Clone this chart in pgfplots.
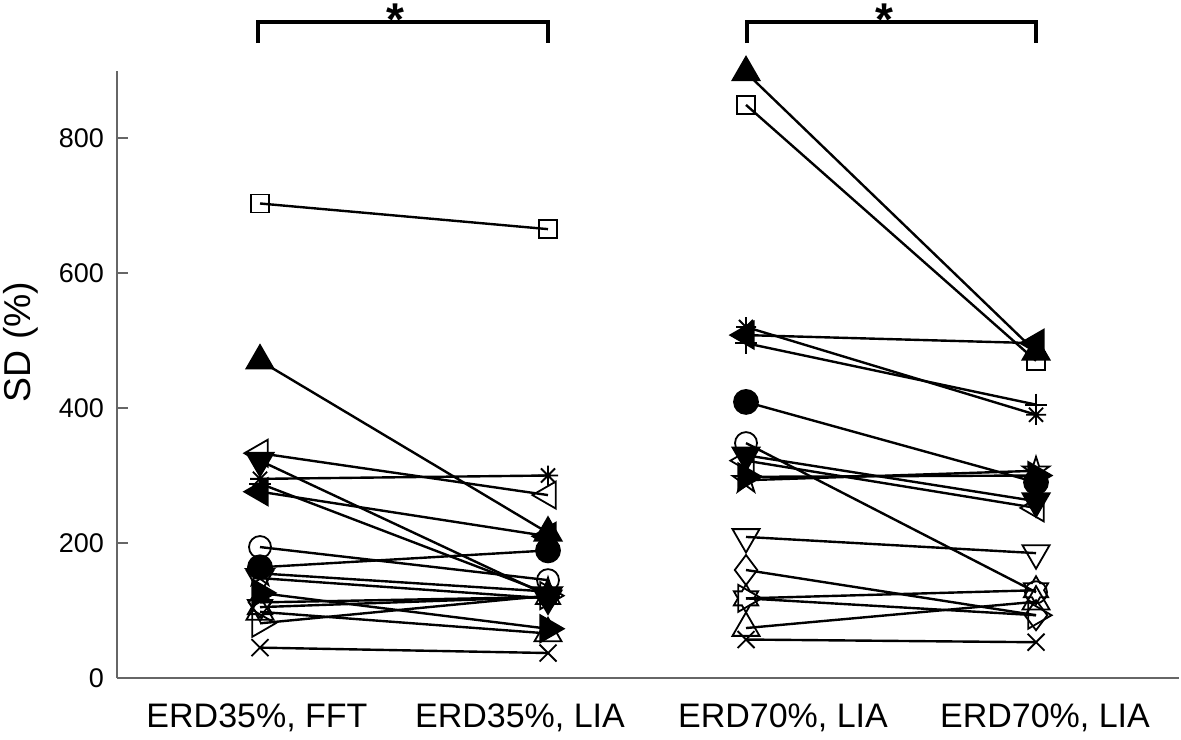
\documentclass[border=0pt]{standalone}
\usepackage{fontspec}
\setmainfont{Liberation Sans}
\usepackage{pgfplots}
\pgfplotsset{compat=1.18}
\pgfdeclareplotmark{ast8}{%
 \pgfpathmoveto{\pgfqpoint{-\pgfplotmarksize}{0pt}}\pgfpathlineto{\pgfqpoint{\pgfplotmarksize}{0pt}}%
 \pgfpathmoveto{\pgfqpoint{0pt}{-\pgfplotmarksize}}\pgfpathlineto{\pgfqpoint{0pt}{\pgfplotmarksize}}%
 \pgfpathmoveto{\pgfqpoint{-.7071\pgfplotmarksize}{-.7071\pgfplotmarksize}}\pgfpathlineto{\pgfqpoint{.7071\pgfplotmarksize}{.7071\pgfplotmarksize}}%
 \pgfpathmoveto{\pgfqpoint{-.7071\pgfplotmarksize}{.7071\pgfplotmarksize}}\pgfpathlineto{\pgfqpoint{.7071\pgfplotmarksize}{-.7071\pgfplotmarksize}}%
 \pgfusepathqstroke}
\pgfdeclareplotmark{pentagram}{%
 \pgfpathmoveto{\pgfqpoint{0pt}{\pgfplotmarksize}}%
 \pgfpathlineto{\pgfqpoint{.2245\pgfplotmarksize}{.3090\pgfplotmarksize}}%
 \pgfpathlineto{\pgfqpoint{.9511\pgfplotmarksize}{.3090\pgfplotmarksize}}%
 \pgfpathlineto{\pgfqpoint{.3633\pgfplotmarksize}{-.1180\pgfplotmarksize}}%
 \pgfpathlineto{\pgfqpoint{.5878\pgfplotmarksize}{-.8090\pgfplotmarksize}}%
 \pgfpathlineto{\pgfqpoint{0pt}{-.382\pgfplotmarksize}}%
 \pgfpathlineto{\pgfqpoint{-.5878\pgfplotmarksize}{-.8090\pgfplotmarksize}}%
 \pgfpathlineto{\pgfqpoint{-.3633\pgfplotmarksize}{-.1180\pgfplotmarksize}}%
 \pgfpathlineto{\pgfqpoint{-.9511\pgfplotmarksize}{.3090\pgfplotmarksize}}%
 \pgfpathlineto{\pgfqpoint{-.2245\pgfplotmarksize}{.3090\pgfplotmarksize}}%
 \pgfpathclose\pgfusepathqstroke}
\pgfdeclareplotmark{hexagram}{%
 \pgfpathmoveto{\pgfqpoint{0pt}{\pgfplotmarksize}}%
 \pgfpathlineto{\pgfqpoint{.2887\pgfplotmarksize}{.5\pgfplotmarksize}}%
 \pgfpathlineto{\pgfqpoint{.8660\pgfplotmarksize}{.5\pgfplotmarksize}}%
 \pgfpathlineto{\pgfqpoint{.5774\pgfplotmarksize}{0pt}}%
 \pgfpathlineto{\pgfqpoint{.8660\pgfplotmarksize}{-.5\pgfplotmarksize}}%
 \pgfpathlineto{\pgfqpoint{.2887\pgfplotmarksize}{-.5\pgfplotmarksize}}%
 \pgfpathlineto{\pgfqpoint{0pt}{-\pgfplotmarksize}}%
 \pgfpathlineto{\pgfqpoint{-.2887\pgfplotmarksize}{-.5\pgfplotmarksize}}%
 \pgfpathlineto{\pgfqpoint{-.8660\pgfplotmarksize}{-.5\pgfplotmarksize}}%
 \pgfpathlineto{\pgfqpoint{-.5774\pgfplotmarksize}{0pt}}%
 \pgfpathlineto{\pgfqpoint{-.8660\pgfplotmarksize}{.5\pgfplotmarksize}}%
 \pgfpathlineto{\pgfqpoint{-.2887\pgfplotmarksize}{.5\pgfplotmarksize}}%
 \pgfpathclose\pgfusepathqstroke}
\pgfplotsset{
 subj/.style={black, solid, line width=1.2pt},
 mk/.style={mark options={solid, line width=0.9pt, black, #1}},
 mk/.default={},
}
\begin{document}
\begin{tikzpicture}
\useasboundingbox (0,0) rectangle (590.5pt,369.5pt);
\begin{axis}[
 at={(58.5pt,30.5pt)}, anchor=south west,
 width=531pt, height=303.75pt, scale only axis,
 xmin=117, xmax=1179, ymin=0, ymax=900,
 axis x line*=bottom, axis y line*=left,
 axis line style={-, draw=black!60, line width=0.6pt},
 xtick={257,520,783,1045},
 xticklabels={{ERD35\%, FFT},{ERD35\%, LIA},{ERD70\%, LIA},{ERD70\%, LIA}},
 x tick style={draw=none},
 ytick={0,200,400,600,800},
 y tick style={draw=black!60, line width=0.6pt},
 major tick length=5.5pt,
 tick align=inside,
 /pgf/number format/assume math mode=true,
 yticklabel style={font=\fontsize{13.5}{16}\selectfont, xshift=-3pt},
 xticklabel style={font=\fontsize{17}{20}\selectfont, yshift=-9.3pt},
 clip=false,
 unbounded coords=jump,
]
% A filled triangle up
\addplot[subj, mark=triangle*, mark size=7.8pt, mk] coordinates {(260,470) (548,215) (650,nan) (746,897) (1036,483)};
% B open square
\addplot[subj, mark=square, mark size=4.5pt, mk] coordinates {(260,703) (548,665) (650,nan) (746,849) (1036,470)};
% C filled triangle left
\addplot[subj, mark=triangle*, mark size=7.8pt, mk={rotate=90}] coordinates {(260,276) (548,210) (650,nan) (746,508) (1036,496)};
% D asterisk
\addplot[subj, mark=ast8, mark size=5pt, mk] coordinates {(260,295) (548,300) (650,nan) (746,520) (1036,390)};
% E plus
\addplot[subj, mark=+, mark size=5.5pt, mk] coordinates {(260,288) (548,125) (650,nan) (746,496) (1036,405)};
% F filled circle
\addplot[subj, mark=*, mark size=6pt, mk] coordinates {(260,164) (548,189) (650,nan) (746,409) (1036,290)};
% G open circle
\addplot[subj, mark=o, mark size=5.5pt, mk] coordinates {(260,194) (548,145) (650,nan) (746,348) (1036,127)};
% H filled triangle down
\addplot[subj, mark=triangle*, mark size=7.8pt, mk={rotate=180}] coordinates {(260,322) (548,122) (650,nan) (746,330) (1036,262)};
% I open triangle left
\addplot[subj, mark=triangle, mark size=7.8pt, mk={rotate=90}] coordinates {(260,333) (548,271) (650,nan) (746,322) (1036,252)};
% J filled triangle right
\addplot[subj, mark=triangle*, mark size=7.8pt, mk={rotate=-90}] coordinates {(260,126) (548,73) (650,nan) (746,298) (1036,300)};
% K pentagram
\addplot[subj, mark=pentagram, mark size=7pt, mk] coordinates {(260,155) (548,128) (650,nan) (746,293) (1036,307)};
% L open triangle down
\addplot[subj, mark=triangle, mark size=7.8pt, mk={rotate=180}] coordinates {(260,148) (548,118) (650,nan) (746,209) (1036,185)};
% M open diamond
\addplot[subj, mark=diamond, mark size=7.5pt, mk] coordinates {(260,112) (548,120) (650,nan) (746,160) (1036,93)};
% N hexagram
\addplot[subj, mark=hexagram, mark size=7pt, mk] coordinates {(260,105) (548,120) (650,nan) (746,118) (1036,130)};
% O open triangle right
\addplot[subj, mark=triangle, mark size=7.8pt, mk={rotate=-90}] coordinates {(260,81) (548,122) (650,nan) (746,118) (1036,93)};
% P open triangle up
\addplot[subj, mark=triangle, mark size=7.8pt, mk] coordinates {(260,98) (548,66) (650,nan) (746,74) (1036,113)};
% Q x
\addplot[subj, mark=x, mark size=6pt, mk] coordinates {(260,45) (548,37) (650,nan) (746,57) (1036,53)};

\node[rotate=90, font=\fontsize{18.7}{22}\selectfont] at (axis cs:21,498) {SD (\%)};
\draw[black, line width=1.6pt] (axis cs:258,940.7) -- (axis cs:258,971.9) -- (axis cs:548,971.9) -- (axis cs:548,940.7);
\draw[black, line width=1.6pt] (axis cs:747,940.7) -- (axis cs:747,971.9) -- (axis cs:1036,971.9) -- (axis cs:1036,940.7);
\node[anchor=base, inner sep=0pt, font=\fontsize{23}{26}\selectfont\bfseries] at (axis cs:395,952) {*};
\node[anchor=base, inner sep=0pt, font=\fontsize{23}{26}\selectfont\bfseries] at (axis cs:884,952) {*};
\end{axis}
\end{tikzpicture}
\end{document}
